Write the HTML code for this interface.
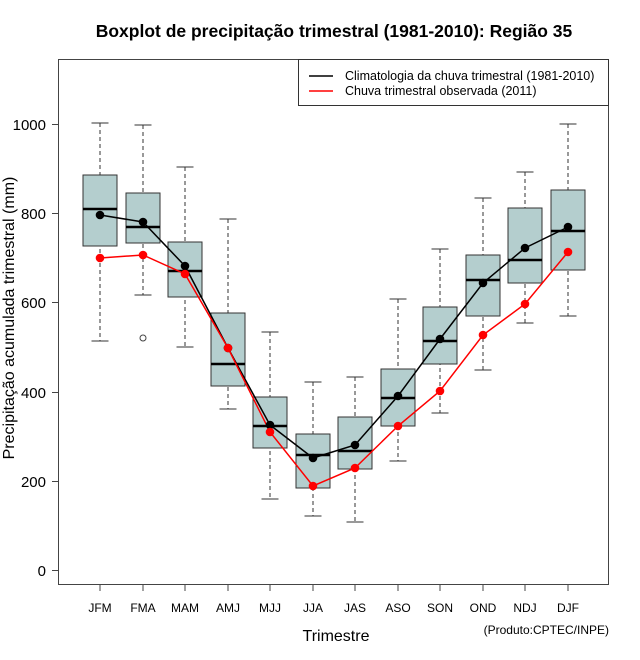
<!DOCTYPE html>
<html><head><meta charset="utf-8"><style>
html,body{margin:0;padding:0;background:#fff}
svg{display:block;font-family:"Liberation Sans",sans-serif}
</style></head><body>
<svg width="640" height="660" viewBox="0 0 640 660" xmlns="http://www.w3.org/2000/svg">
<text x="334" y="37" font-size="17.5" font-weight="bold" text-anchor="middle">Boxplot de precipitação trimestral (1981-2010): Região 35</text>
<rect x="58.5" y="59.5" width="550" height="525" fill="none" stroke="#444" stroke-width="1"/>
<g stroke="#444" stroke-width="1">
<line x1="52" y1="124.5" x2="58" y2="124.5"/><line x1="52" y1="213.5" x2="58" y2="213.5"/>
<line x1="52" y1="302.5" x2="58" y2="302.5"/><line x1="52" y1="392.5" x2="58" y2="392.5"/>
<line x1="52" y1="481.5" x2="58" y2="481.5"/><line x1="52" y1="570.5" x2="58" y2="570.5"/>
</g>
<g font-size="15" text-anchor="end">
<text x="46" y="130">1000</text><text x="46" y="219">800</text><text x="46" y="308">600</text>
<text x="46" y="398">400</text><text x="46" y="487">200</text><text x="46" y="576">0</text>
</g>
<text transform="translate(14,318) rotate(-90)" font-size="16" text-anchor="middle">Precipitação acumulada trimestral (mm)</text>
<g id="boxes"></g>
<text x="336" y="641" font-size="16" text-anchor="middle">Trimestre</text>
<text x="609" y="634" font-size="12" text-anchor="end">(Produto:CPTEC/INPE)</text>
<rect x="298.5" y="59.5" width="310" height="46" fill="#fff" stroke="#333"/>
<line x1="309" y1="76" x2="333" y2="76" stroke="#000" stroke-width="1.5"/>
<line x1="309" y1="91" x2="333" y2="91" stroke="#f00" stroke-width="1.5"/>
<text x="345" y="80" font-size="12.5">Climatologia da chuva trimestral (1981-2010)</text>
<text x="345" y="95" font-size="12.5">Chuva trimestral observada (2011)</text>
</svg>
<script>
var d=[["JFM",100,123,175,209,246,341,215,258],["FMA",143,125,193,227,243,295,222,255],["MAM",185,167,242,271,297,347,266,274],["AMJ",228,219,313,364,386,409,348,348],["MJJ",270,332,397,426,448,499,425,432],["JJA",313,382,434,455,488,516,458,486],["JAS",355,377,417,451,469,522,445,468],["ASO",398,299,369,398,426,461,396,426],["SON",440,249,307,341,364,413,339,391],["OND",483,198,255,280,316,370,283,335],["NDJ",525,172,208,260,283,323,248,304],["DJF",568,124,190,231,270,316,227,252]];
var s="",pm=[],pr=[];
d.forEach(function(r){var x=r[1];
s+='<line x1="'+x+'" y1="'+r[2]+'" x2="'+x+'" y2="'+r[6]+'" stroke="#333" stroke-dasharray="4,3"/>';
s+='<line x1="'+(x-8.5)+'" y1="'+r[2]+'" x2="'+(x+8.5)+'" y2="'+r[2]+'" stroke="#333"/>';
s+='<line x1="'+(x-8.5)+'" y1="'+r[6]+'" x2="'+(x+8.5)+'" y2="'+r[6]+'" stroke="#333"/>';
s+='<rect x="'+(x-17)+'" y="'+r[3]+'" width="34" height="'+(r[5]-r[3])+'" fill="#b4cece" stroke="#333"/>';
s+='<line x1="'+(x-17)+'" y1="'+r[4]+'" x2="'+(x+17)+'" y2="'+r[4]+'" stroke="#000" stroke-width="2.5"/>';
s+='<line x1="'+x+'" y1="585" x2="'+x+'" y2="591" stroke="#444"/>';
s+='<text x="'+x+'" y="612" font-size="12" text-anchor="middle">'+r[0]+'</text>';
pm.push(x+','+r[7]);pr.push(x+','+r[8]);});
s+='<circle cx="143" cy="338" r="3" fill="none" stroke="#444"/>';
s+='<polyline points="'+pm.join(' ')+'" fill="none" stroke="#000" stroke-width="1.5"/>';
s+='<polyline points="'+pr.join(' ')+'" fill="none" stroke="#f00" stroke-width="1.5"/>';
d.forEach(function(r){s+='<circle cx="'+r[1]+'" cy="'+r[7]+'" r="4.3" fill="#000"/><circle cx="'+r[1]+'" cy="'+r[8]+'" r="4.3" fill="#f00"/>';});
document.getElementById("boxes").innerHTML=s;
</script>
</body></html>
